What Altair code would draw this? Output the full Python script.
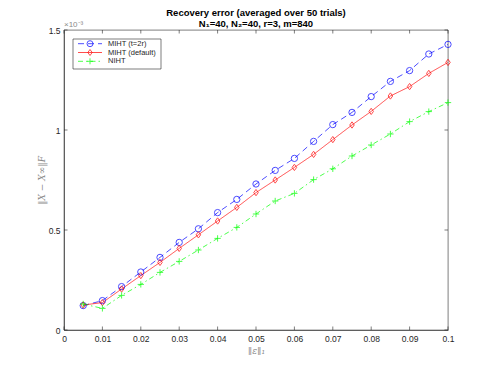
import altair as alt
import pandas as pd

# x positions (noise level ||e||_1)
eps = [0.005, 0.010, 0.015, 0.020, 0.025, 0.030, 0.035, 0.040, 0.045, 0.050,
       0.055, 0.060, 0.065, 0.070, 0.075, 0.080, 0.085, 0.090, 0.095, 0.100]

# recovery error, in units of 1e-3
miht_2r = [0.122, 0.147, 0.217, 0.290, 0.363, 0.438, 0.506, 0.587, 0.653, 0.730,
           0.798, 0.858, 0.943, 1.027, 1.088, 1.167, 1.243, 1.297, 1.380, 1.428]
miht_def = [0.125, 0.137, 0.205, 0.272, 0.338, 0.408, 0.476, 0.545, 0.613, 0.687,
            0.750, 0.813, 0.878, 0.952, 1.025, 1.093, 1.170, 1.217, 1.283, 1.338]
niht = [0.130, 0.108, 0.173, 0.228, 0.288, 0.343, 0.400, 0.458, 0.513, 0.580,
        0.645, 0.683, 0.752, 0.806, 0.870, 0.925, 0.980, 1.042, 1.092, 1.137]

series_names = ["MIHT (t=2r)", "MIHT (default)", "NIHT"]
series_colors = ["#0000ff", "#ff0000", "#00ff00"]
series_dash = [[6, 4], [1, 0], [5, 3, 1.5, 3]]
series_shapes = ["circle", "M0,-1L0.72,0L0,1L-0.72,0Z", "M-1,0L1,0M0,-1L0,1"]

x_ticks = [0, 0.01, 0.02, 0.03, 0.04, 0.05, 0.06, 0.07, 0.08, 0.09, 0.1]
y_ticks = [0, 0.5, 1.0, 1.5]

title_lines = ["Recovery error (averaged over 50 trials)", "N\u2081=40, N\u2082=40, r=3, m=840"]

W, H = 384, 300
AX = "#262626"
LBL = "#8a8a8a"

rows = []
for name, vals in zip(series_names, [miht_2r, miht_def, niht]):
    for x, v in zip(eps, vals):
        rows.append({"eps": x, "err": v, "series": name})
df = pd.DataFrame(rows)

xscale = alt.Scale(domain=[0, 0.1], nice=False, zero=False)
yscale = alt.Scale(domain=[0, 1.5], nice=False, zero=False)
cscale = alt.Scale(domain=series_names, range=series_colors)
dscale = alt.Scale(domain=series_names, range=series_dash)
sscale = alt.Scale(domain=series_names, range=series_shapes)

xaxis = alt.Axis(values=x_ticks, format="~g", title="\u2016\u03b5\u2016\u2081",
                 titleFont="DejaVu Serif", titleFontStyle="italic",
                 titleFontWeight="normal", titleColor=LBL, titleFontSize=9,
                 titlePadding=4, labelPadding=4, labelOverlap=False, labelFlush=False)
yaxis = alt.Axis(values=y_ticks, format="~g", title="\u2016X \u2212 X\u221e\u2016F",
                 titleFont="DejaVu Serif", titleFontStyle="italic",
                 titleFontWeight="normal", titleColor=LBL, titleFontSize=9,
                 titlePadding=2, labelPadding=4, labelOverlap=False, labelFlush=False)
X = alt.X("eps:Q", scale=xscale, axis=xaxis)
Y = alt.Y("err:Q", scale=yscale, axis=yaxis)

lines = alt.Chart(df).mark_line(strokeWidth=0.7).encode(
    x=X, y=Y,
    color=alt.Color("series:N", scale=cscale, legend=None),
    strokeDash=alt.StrokeDash("series:N", scale=dscale, legend=None),
    detail="series:N",
)
points = alt.Chart(df).mark_point(filled=False, size=40, strokeWidth=1).encode(
    x=X, y=Y,
    color=alt.Color("series:N", scale=cscale, legend=None),
    shape=alt.Shape("series:N", scale=sscale, legend=None),
)

xt = pd.DataFrame({"eps": x_ticks})
yt = pd.DataFrame({"err": y_ticks})
tick_style = dict(color=AX, strokeWidth=0.6)
ticks = [
    alt.Chart(xt).mark_rule(**tick_style).encode(x=X, y=alt.value(H), y2=alt.value(H - 3.5)),
    alt.Chart(xt).mark_rule(**tick_style).encode(x=X, y=alt.value(0), y2=alt.value(3.5)),
    alt.Chart(yt).mark_rule(**tick_style).encode(y=Y, x=alt.value(0), x2=alt.value(3.5)),
    alt.Chart(yt).mark_rule(**tick_style).encode(y=Y, x=alt.value(W), x2=alt.value(W - 3.5)),
]

exp_label = alt.Chart(pd.DataFrame({"s": ["\u00d710\u207b\u00b3"]})).mark_text(
    align="left", baseline="alphabetic", fontSize=8, color=LBL, font="Liberation Sans"
).encode(text="s:N", x=alt.value(0), y=alt.value(-3))

title_layers = [
    alt.Chart(pd.DataFrame({"s": [line]})).mark_text(
        align="center", baseline="alphabetic", fontSize=9.5, fontWeight="bold",
        color="black", font="Liberation Sans"
    ).encode(text="s:N", x=alt.value(W / 2), y=alt.value(yy))
    for line, yy in zip(title_lines, [-14.5, -3.5])
]

# legend (manual, MATLAB style)
lx0, lx1, ly0, ly1 = 9, 97, 9, 39
row_y = [13.7, 22.5, 31.3]
legend_layers = [
    alt.Chart(pd.DataFrame({"a": [0]})).mark_rect(fill="white", stroke=AX, strokeWidth=0.6).encode(
        x=alt.value(lx0), x2=alt.value(lx1), y=alt.value(ly0), y2=alt.value(ly1))
]
for name, col, dash, shp, ry in zip(series_names, series_colors, series_dash, series_shapes, row_y):
    d = pd.DataFrame({"label": [name]})
    legend_layers.append(alt.Chart(d).mark_rule(color=col, strokeWidth=0.7, strokeDash=dash).encode(
        x=alt.value(14), x2=alt.value(38), y=alt.value(ry)))
    legend_layers.append(alt.Chart(d).mark_point(color=col, shape=shp, filled=False, size=36, strokeWidth=1).encode(
        x=alt.value(26), y=alt.value(ry)))
    legend_layers.append(alt.Chart(d).mark_text(align="left", baseline="middle", fontSize=7.5,
                                                color=AX, font="Liberation Sans").encode(
        text="label:N", x=alt.value(44), y=alt.value(ry)))

chart = alt.layer(lines, points, *ticks, exp_label, *title_layers, *legend_layers).properties(
    width=W, height=H,
    autosize=alt.AutoSizeParams(type="none"),
    padding={"left": 56, "top": 22, "right": 30, "bottom": 25},
).configure_view(stroke=AX, strokeWidth=0.6).configure_axis(
    grid=False, ticks=False, domainColor=AX, domainWidth=0.6,
    labelColor=AX, labelFont="Liberation Sans", labelFontSize=8.5,
)

chart.save("out.html", embed_options={"renderer": "svg", "actions": False})
